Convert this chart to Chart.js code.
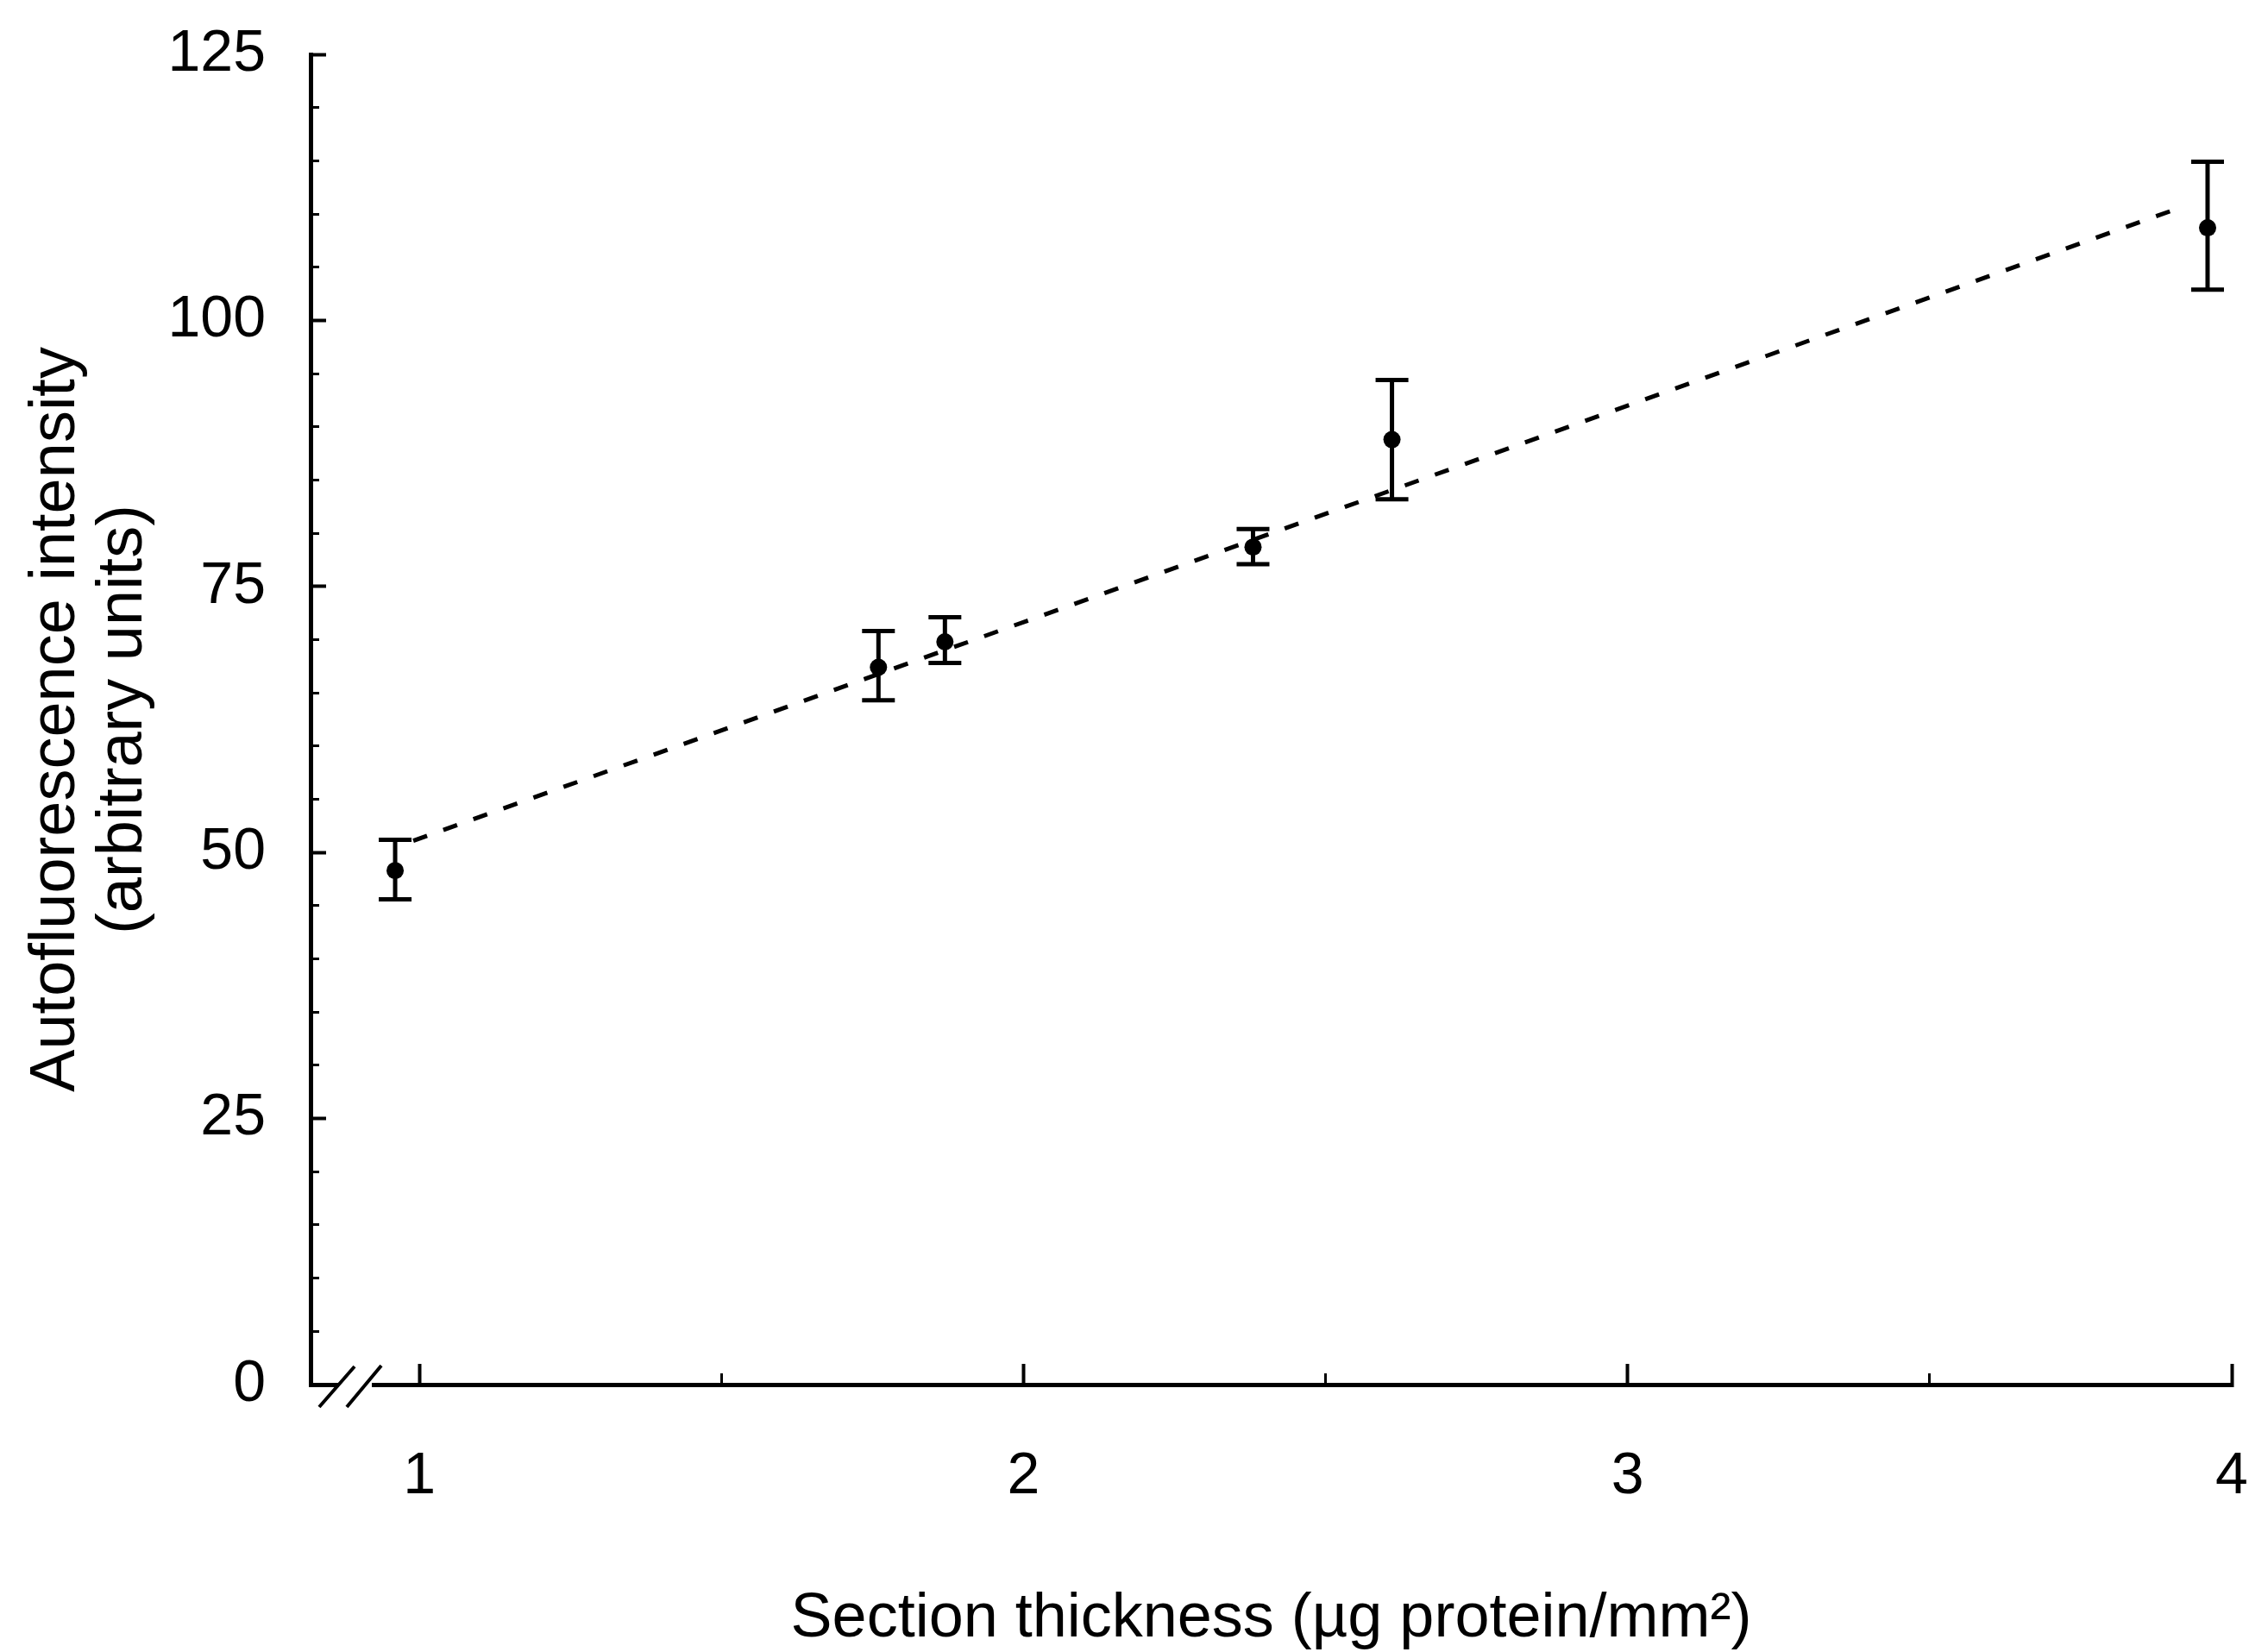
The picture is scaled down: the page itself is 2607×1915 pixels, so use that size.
<!DOCTYPE html>
<html>
<head>
<meta charset="utf-8">
<script src="https://cdn.jsdelivr.net/npm/chart.js@4"></script>
<style>
  html, body { margin: 0; padding: 0; background: #fff; }
  #wrap { width: 2607px; height: 1915px; position: relative; }
</style>
</head>
<body>
<div id="wrap"><canvas id="chart"></canvas></div>
<script>
// section thickness (ug protein/mm2) and autofluorescence
const thickness = [0.96, 1.76, 1.87, 2.38, 2.61, 3.96];
const intensity = [48.3, 67.4, 69.8, 78.7, 88.8, 108.7];
const errHigh = [51.2, 70.8, 72.1, 80.4, 94.4, 114.9];
const errLow = [45.6, 64.3, 67.8, 77.1, 83.2, 102.9];

// dashed regression line, ends as drawn
const fitX = [0.99, 3.91];
const fitY = [51.1, 110.5];

const xMajorTicks = [1, 2, 3, 4];
const xMinorTicks = [1.5, 2.5, 3.5];
const yMajorTicks = [0, 25, 50, 75, 100, 125];
const yMinorTicks = [5, 10, 15, 20, 30, 35, 40, 45, 55, 60, 65, 70, 80, 85, 90, 95, 105, 110, 115, 120];

const X_MIN = 0.82, X_MAX = 4;
const Y_MIN = 0, Y_MAX = 125;

Chart.defaults.font.family = '"Liberation Sans", Arial, sans-serif';
Chart.defaults.color = '#000';

const setTicks = (list) => (scale) => { scale.ticks = list.map(v => ({ value: v })); };

// error bars drawn through the chart's own scales
const errorBars = {
  id: 'errorBars',
  beforeDatasetsDraw(chart) {
    const { ctx, scales: { x, y } } = chart;
    ctx.save();
    ctx.strokeStyle = '#000';
    ctx.lineWidth = 5;
    for (let i = 0; i < thickness.length; i++) {
      const px = x.getPixelForValue(thickness[i]);
      const top = y.getPixelForValue(errHigh[i]);
      const bot = y.getPixelForValue(errLow[i]);
      ctx.beginPath();
      ctx.moveTo(px, top); ctx.lineTo(px, bot);
      ctx.moveTo(px - 19, top); ctx.lineTo(px + 19, top);
      ctx.moveTo(px - 19, bot); ctx.lineTo(px + 19, bot);
      ctx.stroke();
    }
    ctx.restore();
  }
};

// the "//" break on the x axis next to the origin
const axisBreak = {
  id: 'axisBreak',
  afterDraw(chart) {
    const { ctx, chartArea: { left, bottom } } = chart;
    ctx.save();
    ctx.fillStyle = '#fff';
    ctx.fillRect(left + 33, bottom - 7, 38, 14);
    ctx.strokeStyle = '#000';
    ctx.lineWidth = 4;
    ctx.beginPath();
    ctx.moveTo(left + 10, bottom + 26); ctx.lineTo(left + 51, bottom - 21);
    ctx.moveTo(left + 42, bottom + 26); ctx.lineTo(left + 82, bottom - 22);
    ctx.stroke();
    ctx.restore();
  }
};

new Chart(document.getElementById('chart'), {
  type: 'scatter',
  data: {
    datasets: [
      {
        label: 'Autofluorescence',
        data: thickness.map((t, i) => ({ x: t, y: intensity[i] })),
        pointRadius: 10,
        pointBackgroundColor: '#000',
        pointBorderColor: '#000',
        pointBorderWidth: 0,
        showLine: false,
        clip: false
      },
      {
        label: 'Fit',
        data: fitX.map((t, i) => ({ x: t, y: fitY[i] })),
        showLine: true,
        borderColor: '#000',
        borderWidth: 5,
        borderDash: [17, 20],
        pointRadius: 0
      }
    ]
  },
  options: {
    responsive: true,
    maintainAspectRatio: false,
    animation: false,
    layout: { padding: { top: 63, right: 20, bottom: 0, left: 0 } },
    plugins: { legend: { display: false }, tooltip: { enabled: false } },
    scales: {
      xMinor: {
        type: 'linear', position: 'bottom', weight: 0, min: X_MIN, max: X_MAX,
        afterBuildTicks: setTicks(xMinorTicks),
        afterFit: (s) => { s.height = 0; s.paddingLeft = 0; s.paddingRight = 0; },
        ticks: { display: false },
        border: { display: false },
        grid: { drawOnChartArea: false, tickLength: -13, tickWidth: 3, tickColor: '#000' }
      },
      yMinor: {
        type: 'linear', position: 'left', weight: 0, min: Y_MIN, max: Y_MAX,
        afterBuildTicks: setTicks(yMinorTicks),
        afterFit: (s) => { s.width = 0; s.paddingTop = 0; s.paddingBottom = 0; },
        ticks: { display: false },
        border: { display: false },
        grid: { drawOnChartArea: false, tickLength: -10, tickWidth: 3, tickColor: '#000' }
      },
      x: {
        type: 'linear', position: 'bottom', weight: 1, min: X_MIN, max: X_MAX,
        afterBuildTicks: setTicks(xMajorTicks),
        afterFit: (s) => { s.height = 310; s.paddingLeft = 0; s.paddingRight = 0; },
        border: { color: '#000', width: 5 },
        grid: { drawOnChartArea: false, tickLength: -24, tickWidth: 4, tickColor: '#000' },
        ticks: { padding: 90, font: { size: 68 }, color: '#000', maxRotation: 0 },
        title: {
          display: true,
          text: 'Section thickness (µg protein/mm²)',
          font: { size: 72, lineHeight: 1.05 },
          color: '#000',
          padding: { top: 0, bottom: 0 }
        }
      },
      y: {
        type: 'linear', position: 'left', weight: 1, min: Y_MIN, max: Y_MAX,
        afterBuildTicks: setTicks(yMajorTicks),
        afterFit: (s) => { s.width = 360; s.paddingTop = 0; s.paddingBottom = 0; },
        border: { color: '#000', width: 5 },
        grid: { drawOnChartArea: false, tickLength: -18, tickWidth: 4, tickColor: '#000' },
        ticks: { padding: 70, font: { size: 68 }, color: '#000' },
        title: {
          display: true,
          text: ['Autofluorescence intensity', '(arbitrary units)'],
          font: { size: 74, lineHeight: 1.05 },
          color: '#000',
          padding: { top: 27, bottom: 0 }
        }
      }
    }
  },
  plugins: [errorBars, axisBreak]
});
</script>
</body>
</html>
